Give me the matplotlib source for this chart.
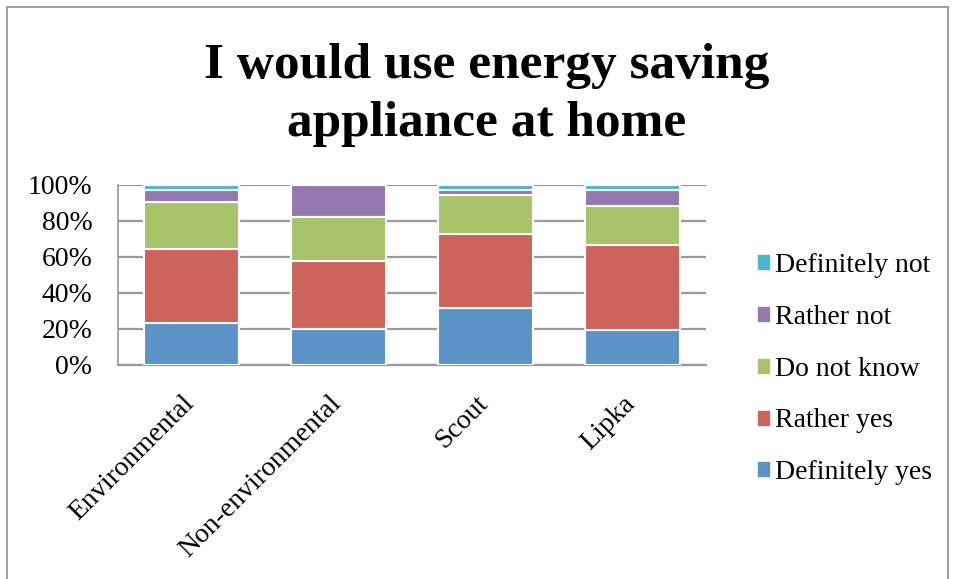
import matplotlib
matplotlib.use("Agg")
import matplotlib.pyplot as plt
from matplotlib.patches import Rectangle, Patch
from matplotlib.transforms import ScaledTranslation

categories = ["Environmental", "Non-environmental", "Scout", "Lipka"]
series_names = ["Definitely yes", "Rather yes", "Do not know", "Rather not", "Definitely not"]
definitely_yes = [23.5, 20.0, 31.5, 19.5]
rather_yes = [41.0, 38.0, 41.5, 47.0]
do_not_know = [26.0, 24.0, 21.5, 22.0]
rather_not = [7.0, 18.0, 3.0, 8.5]
definitely_not = [2.5, 0.0, 2.5, 3.0]
y_ticks = [0, 20, 40, 60, 80, 100]
y_tick_labels = ["0%", "20%", "40%", "60%", "80%", "100%"]
title = "I would use energy saving\nappliance at home"

colors = ["#5b93c7", "#cc645c", "#a8c46a", "#9479b0", "#4bb8d0"]
series = [definitely_yes, rather_yes, do_not_know, rather_not, definitely_not]

serif = ["Liberation Serif", "DejaVu Serif"]

fig = plt.figure(figsize=(9.55, 5.79), dpi=100)
fig.patch.set_facecolor("white")
fig.patches.append(Rectangle((7 / 955, -0.01), 941 / 955, 1 - 7 / 579 + 0.01,
                             transform=fig.transFigure, fill=False,
                             edgecolor="#8c8c8c", linewidth=1.2))

ax = fig.add_axes([118 / 955, (579 - 365) / 579, 588 / 955, 180 / 579])
x = list(range(len(categories)))
bottom = [0.0] * len(categories)
handles = []
for name, vals, col in zip(series_names, series, colors):
    ax.bar(x, vals, bottom=bottom, width=0.65, color=col,
           edgecolor="white", linewidth=1.5, zorder=3)
    bottom = [b + v for b, v in zip(bottom, vals)]
    handles.append(Patch(facecolor=col, edgecolor=col, label=name))

ax.set_xlim(-0.5, len(categories) - 0.5)
ax.set_ylim(0, 100)
ax.set_yticks(y_ticks)
ax.set_yticklabels(y_tick_labels, fontfamily=serif, fontsize=20)
ax.set_xticks(x)
ax.set_xticklabels(categories, rotation=45, ha="right", rotation_mode="anchor",
                   fontfamily=serif, fontsize=20)
ax.tick_params(axis="y", length=0, pad=18.5)
ax.tick_params(axis="x", length=0, pad=10)
shift = ScaledTranslation(-10 / 100, -12 / 100, fig.dpi_scale_trans)
for lbl in ax.get_xticklabels():
    lbl.set_transform(lbl.get_transform() + shift)
ax.yaxis.grid(True, color="#9a9a9a", linewidth=1.6, zorder=0)
for side in ["top", "right"]:
    ax.spines[side].set_visible(False)
ax.spines["left"].set_color("#9a9a9a")
ax.spines["left"].set_linewidth(1.2)
ax.spines["bottom"].set_color("#9a9a9a")
ax.spines["bottom"].set_linewidth(1.6)

fig.text(487 / 955, 1 - 95 / 579, title, ha="center", va="center",
         fontfamily=serif, fontweight="bold", fontsize=37, linespacing=1.33)

fig.legend(handles[::-1], series_names[::-1], loc="center left",
           bbox_to_anchor=(733 / 955, 1 - 369 / 579), frameon=False,
           prop={"family": serif, "size": 20}, handlelength=0.4,
           handleheight=0.4, handletextpad=0.22, labelspacing=0.97)

fig.savefig("out.png", dpi=100, facecolor="white")
